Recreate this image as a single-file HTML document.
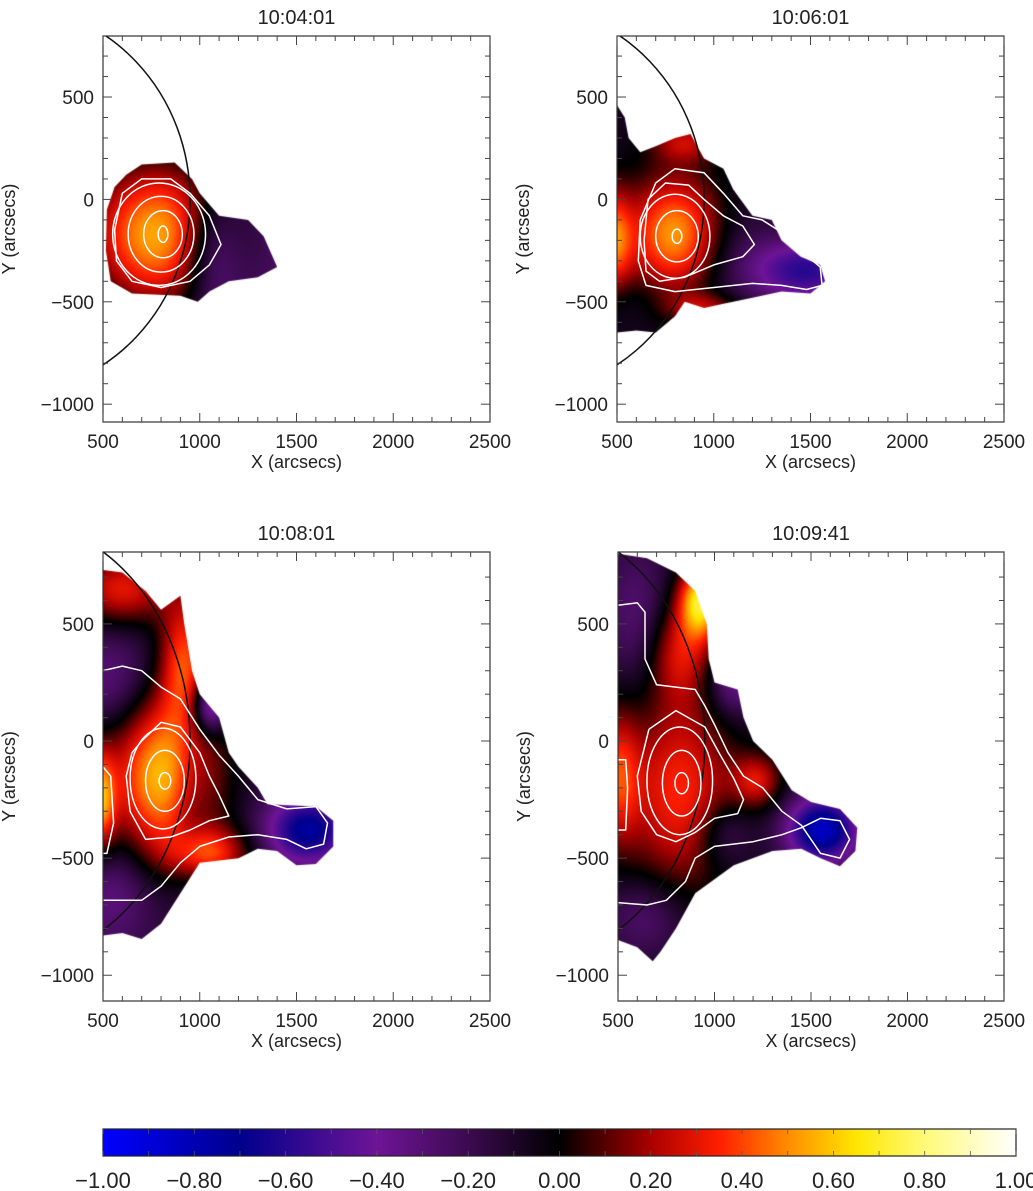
<!DOCTYPE html>
<html><head><meta charset="utf-8">
<style>
html,body{margin:0;padding:0;background:#fff;}
#wrap{position:relative;width:1033px;height:1191px;overflow:hidden;background:#fff;}
canvas{position:absolute;}
svg{position:absolute;left:0;top:0;}
text{font-family:"Liberation Sans",sans-serif;fill:#222;}
</style></head>
<body>
<div id="wrap">
<canvas id="c0"></canvas>
<canvas id="c1"></canvas>
<canvas id="c2"></canvas>
<canvas id="c3"></canvas>
<svg id="svg" width="1033" height="1191" xmlns="http://www.w3.org/2000/svg">
<defs>
<linearGradient id="cbg" x1="0" x2="1" y1="0" y2="0">
<stop offset="0" stop-color="rgb(0,0,255)"/>
<stop offset="0.15" stop-color="rgb(0,0,140)"/>
<stop offset="0.3" stop-color="rgb(110,20,150)"/>
<stop offset="0.4" stop-color="rgb(60,10,80)"/>
<stop offset="0.5" stop-color="rgb(0,0,0)"/>
<stop offset="0.6" stop-color="rgb(170,0,0)"/>
<stop offset="0.675" stop-color="rgb(255,30,0)"/>
<stop offset="0.75" stop-color="rgb(255,140,0)"/>
<stop offset="0.825" stop-color="rgb(255,230,0)"/>
<stop offset="0.9" stop-color="rgb(255,250,120)"/>
<stop offset="1" stop-color="rgb(255,255,255)"/>
</linearGradient>
</defs>
</svg>
</div>
<script>
// ---- data ----
const titles = ["10:04:01","10:06:01","10:08:01","10:09:41"];
const xTicks = [500,1000,1500,2000,2500];
const yTicks = [500,0,-500,-1000];
const cbTicks = [-1.00,-0.80,-0.60,-0.40,-0.20,0.00,0.20,0.40,0.60,0.80,1.00];
const limbRadius = 950;
const baseVals = [-0.3, -0.08, -0.15, -0.1];
// gaussian components: [cx, cy, sx, sy, amp]
const comps0 = [[780,-170,280,280,0.85],[1060,-250,110,200,-0.35]];
const comps1 = [[800,-170,170,200,0.62],[480,-200,70,170,0.5],[1100,-260,180,180,-0.12],[1480,-350,200,110,-0.5],[850,280,120,70,0.3],[950,-530,130,50,0.28],[560,-480,150,80,-0.05]];
const comps2 = [[820,-150,200,250,0.75],[480,-250,60,150,0.6],[600,650,180,110,0.45],[920,350,90,200,0.5],[1050,-480,150,80,0.45],[1560,-380,150,100,-0.6],[1050,150,60,80,-0.5],[550,250,150,150,-0.2],[550,-650,150,150,-0.2],[950,-200,80,250,-0.2]];
const comps3 = [[930,600,80,110,0.75],[820,380,120,150,0.35],[820,-220,200,300,0.45],[500,-150,80,200,0.4],[1560,-380,130,100,-0.75],[1100,250,100,100,-0.3],[1220,-170,90,80,0.35],[600,520,120,220,-0.2],[650,-750,150,120,-0.2],[1050,-400,100,100,-0.2]];
const comps = [comps0,comps1,comps2,comps3];
// mask outlines (data coords)
const mask0 = [[520,-50],[560,60],[620,120],[700,170],[870,180],[960,100],[1000,30],[1100,-80],[1250,-100],[1330,-180],[1400,-330],[1300,-380],[1150,-400],[1050,-450],[990,-500],[900,-470],[650,-460],[540,-400],[515,-250]];
const mask1 = [[500,460],[540,400],[560,300],[620,230],[700,260],[800,300],[880,320],[950,200],[1050,150],[1100,50],[1200,-80],[1300,-100],[1350,-200],[1450,-280],[1550,-320],[1575,-400],[1500,-460],[1350,-450],[1200,-480],[1050,-510],[950,-530],[850,-500],[800,-570],[700,-650],[600,-640],[500,-650]];
const mask2 = [[500,730],[600,720],[720,640],[800,560],[900,620],[920,500],[960,300],[1000,200],[1100,100],[1150,-50],[1200,-110],[1300,-200],[1350,-270],[1600,-280],[1690,-340],[1690,-450],[1600,-525],[1500,-530],[1400,-470],[1300,-460],[1200,-500],[1000,-520],[900,-650],[800,-780],[700,-845],[600,-820],[500,-830]];
const mask3 = [[500,800],[650,780],[800,720],[900,640],[960,500],[970,350],[1000,250],[1120,220],[1150,100],[1200,0],[1300,-80],[1400,-210],[1500,-260],[1650,-290],[1740,-370],[1730,-470],[1650,-535],[1550,-500],[1450,-460],[1300,-470],[1100,-530],[900,-650],[800,-800],[720,-900],[680,-940],[600,-880],[500,-850]];
const masks = [mask0,mask1,mask2,mask3];
// contour ellipses [cx, cy, rx, ry]
const ell0 = [[810,-170,25,40],[810,-170,100,115],[800,-170,170,185],[790,-170,240,250]];
const ell1 = [[810,-180,25,35],[810,-180,110,125],[800,-180,180,205]];
const ell2 = [[820,-170,30,35],[820,-170,100,130],[810,-160,170,215]];
const ell3 = [[830,-180,35,45],[830,-180,100,140],[820,-170,170,230]];
const ells = [ell0,ell1,ell2,ell3];
// contour polylines
const lines0 = [[[600,30],[700,100],[850,100],[950,30],[1050,-80],[1110,-220],[1050,-320],[950,-400],[800,-430],[650,-400],[570,-300],[560,-150],[600,30]]];
const lines1 = [
 [[620,-100],[700,80],[800,150],[950,130],[1050,30],[1150,-80],[1250,-100],[1350,-160],[1450,-250],[1550,-330],[1560,-420],[1480,-440],[1350,-420],[1200,-410],[1000,-430],[800,-450],[650,-420],[610,-300],[620,-100]],
 [[660,0],[750,80],[870,70],[950,0],[1050,-80],[1150,-130],[1210,-220],[1150,-280],[1000,-320],[850,-380],[720,-400],[650,-350],[640,-200],[660,0]]];
const lines2 = [
 [[500,300],[600,320],[700,300],[800,230],[900,180],[1000,50],[1100,-60],[1200,-150],[1300,-250],[1450,-290],[1600,-280],[1660,-350],[1640,-440],[1550,-460],[1450,-420],[1300,-400],[1150,-410],[1000,-450],[900,-520],[800,-620],[700,-680],[500,-680]],
 [[700,0],[800,80],[900,60],[1000,-50],[1050,-150],[1100,-230],[1150,-320],[1050,-340],[950,-380],[850,-410],[720,-420],[640,-300],[620,-150],[650,-50],[700,0]],
 [[500,-110],[540,-150],[555,-350],[520,-480],[500,-480]]];
const lines3 = [
 [[500,580],[600,590],[640,550],[640,350],[700,240],[800,230],[900,220],[950,150],[1000,70],[1070,-50],[1150,-150],[1250,-200],[1350,-300],[1450,-360],[1550,-480],[1650,-500],[1700,-420],[1650,-340],[1550,-330],[1450,-370],[1350,-400],[1200,-430],[1000,-450],[900,-500],[850,-600],[750,-680],[650,-700],[500,-690]],
 [[660,50],[800,130],[950,60],[1030,-60],[1100,-160],[1150,-250],[1120,-310],[1000,-330],[900,-390],[800,-430],[700,-400],[620,-300],[600,-150],[660,50]],
 [[500,-80],[540,-80],[550,-200],[540,-380],[500,-380]]];
const lines = [lines0,lines1,lines2,lines3];
// colormap stops
const cmapVals = [-1,-0.7,-0.4,-0.2,0,0.2,0.35,0.5,0.65,0.8,1];
const cmapCols = [[0,0,255],[0,0,140],[110,20,150],[60,10,80],[0,0,0],[170,0,0],[255,30,0],[255,140,0],[255,230,0],[255,250,120],[255,255,255]];

// ---- layout ----
const panels = [
 {L:103,R:490,T:36,B:422,ymax:798,ymin:-1087},
 {L:617,R:1004,T:36,B:422,ymax:798,ymin:-1087},
 {L:103,R:490,T:552,B:1001,ymax:807,ymin:-1110},
 {L:618,R:1004,T:552,B:1001,ymax:807,ymin:-1110}];
const XMIN=500, XMAX=2500;
const NS="http://www.w3.org/2000/svg";
const svg=document.getElementById('svg');
function mk(tag,attrs,parent){const e=document.createElementNS(NS,tag);for(const k in attrs)e.setAttribute(k,attrs[k]);(parent||svg).appendChild(e);return e;}
function sx(p,x){return p.L+(x-XMIN)/(XMAX-XMIN)*(p.R-p.L);}
function sy(p,y){return p.T+(p.ymax-y)/(p.ymax-p.ymin)*(p.B-p.T);}
function cmap(v){v=Math.max(-1,Math.min(1,v));for(let i=0;i<cmapVals.length-1;i++){if(v<=cmapVals[i+1]){const t=(v-cmapVals[i])/(cmapVals[i+1]-cmapVals[i]);const a=cmapCols[i],b=cmapCols[i+1];return [a[0]+(b[0]-a[0])*t,a[1]+(b[1]-a[1])*t,a[2]+(b[2]-a[2])*t];}}return cmapCols[cmapCols.length-1];}

panels.forEach((p,k)=>{
 const cv=document.getElementById('c'+k);
 const W=p.R-p.L, H=p.B-p.T;
 cv.width=W;cv.height=H;cv.style.left=p.L+'px';cv.style.top=p.T+'px';
 const off=document.createElement('canvas');off.width=W;off.height=H;
 const octx=off.getContext('2d');const img=octx.createImageData(W,H);
 const cs=comps[k];
 for(let j=0;j<H;j++){const y=p.ymax-(j+0.5)/H*(p.ymax-p.ymin);
  for(let i=0;i<W;i++){const x=XMIN+(i+0.5)/W*(XMAX-XMIN);
   let v=baseVals[k];
   for(const c of cs){const dx=(x-c[0])/c[2],dy=(y-c[1])/c[3];v+=c[4]*Math.exp(-0.5*(dx*dx+dy*dy));}
   const col=cmap(v);const o=(j*W+i)*4;img.data[o]=col[0];img.data[o+1]=col[1];img.data[o+2]=col[2];img.data[o+3]=255;}}
 octx.putImageData(img,0,0);
 const ctx=cv.getContext('2d');
 ctx.beginPath();
 masks[k].forEach((pt,i)=>{const X=sx(p,pt[0])-p.L,Y=sy(p,pt[1])-p.T;if(i)ctx.lineTo(X,Y);else ctx.moveTo(X,Y);});
 ctx.closePath();ctx.save();ctx.clip();ctx.drawImage(off,0,0);ctx.restore();

 const g=mk('g',{});
 
 
 const cp=mk('clipPath',{id:'clip'+k},g);mk('rect',{x:p.L,y:p.T,width:p.R-p.L,height:p.B-p.T},cp);
 const inner=mk('g',{'clip-path':'url(#clip'+k+')'},g);
 const cx=sx(p,0),cy=sy(p,0);const rx=limbRadius/(XMAX-XMIN)*(p.R-p.L),ry=limbRadius/(p.ymax-p.ymin)*(p.B-p.T);
 const limb=mk('ellipse',{cx:cx,cy:cy,rx:rx,ry:ry,fill:'none',stroke:'#111','stroke-width':1.5},inner);
 
 
 ells[k].forEach(e=>{const el=mk('ellipse',{cx:sx(p,e[0]),cy:sy(p,e[1]),rx:e[2]/(XMAX-XMIN)*(p.R-p.L),ry:e[3]/(p.ymax-p.ymin)*(p.B-p.T),fill:'none',stroke:'#fff','stroke-width':1.5},inner);
  
  });
 lines[k].forEach(ln=>{const d=ln.map((pt,i)=>(i?'L':'M')+sx(p,pt[0]).toFixed(1)+' '+sy(p,pt[1]).toFixed(1)).join(' ');
  const el=mk('path',{d:d,fill:'none',stroke:'#fff','stroke-width':1.5,'stroke-linejoin':'round'},inner);
  
  });
 const fr=mk('rect',{x:p.L,y:p.T,width:p.R-p.L,height:p.B-p.T,fill:'none',stroke:'#333','stroke-width':1.2},g);
 
 
 for(let x=500;x<=2500;x+=100){const X=sx(p,x);const len=(x%500===0)?9:5;
  mk('line',{x1:X,x2:X,y1:p.B,y2:p.B-len,stroke:'#444','stroke-width':1},g);
  mk('line',{x1:X,x2:X,y1:p.T,y2:p.T+len,stroke:'#444','stroke-width':1},g);}
 for(let y=-1000;y<=700;y+=100){const Y=sy(p,y);const len=(y%500===0)?9:5;
  mk('line',{x1:p.L,x2:p.L+len,y1:Y,y2:Y,stroke:'#444','stroke-width':1},g);
  mk('line',{x1:p.R,x2:p.R-len,y1:Y,y2:Y,stroke:'#444','stroke-width':1},g);}
 xTicks.forEach(v=>{const t=mk('text',{x:sx(p,v),y:p.B+26,'text-anchor':'middle','font-size':19},g);t.textContent=v;
  
  });
 yTicks.forEach(v=>{const t=mk('text',{x:p.L-9,y:sy(p,v)+7,'text-anchor':'end','font-size':19},g);t.textContent=(v<0?'\u2212'+(-v):v);
  
  });
 const tt=mk('text',{x:(p.L+p.R)/2,y:p.T-12,'text-anchor':'middle','font-size':20},g);tt.textContent=titles[k];
 
 
 const xt=mk('text',{x:(p.L+p.R)/2,y:p.B+46,'text-anchor':'middle','font-size':18},g);xt.textContent='X (arcsecs)';
 
 
 const ycx=p.L-88,ycy=(p.T+p.B)/2;
 const yt=mk('text',{x:ycx,y:ycy,'text-anchor':'middle','font-size':18,transform:'rotate(-90 '+ycx+' '+ycy+')'},g);yt.textContent='Y (arcsecs)';
 
 
});

const cb={L:103,R:1016,T:1129,B:1156};
const cbg=mk('g',{});


mk('rect',{x:cb.L,y:cb.T,width:cb.R-cb.L,height:cb.B-cb.T,fill:'url(#cbg)',stroke:'#222','stroke-width':1.2},cbg);
for(let i=0;i<=20;i++){const X=cb.L+i/20*(cb.R-cb.L);
 mk('line',{x1:X,x2:X,y1:cb.B,y2:cb.B-5,stroke:'#555','stroke-width':0.8},cbg);
 mk('line',{x1:X,x2:X,y1:cb.T,y2:cb.T+5,stroke:'#555','stroke-width':0.8},cbg);}
cbTicks.forEach(v=>{const X=cb.L+(v+1)/2*(cb.R-cb.L);
 const t=mk('text',{x:X,y:1188,'text-anchor':'middle','font-size':22},cbg);
 t.textContent=(v<0?'\u2212':'')+Math.abs(v).toFixed(2);
 
 });
</script>
</body></html>
